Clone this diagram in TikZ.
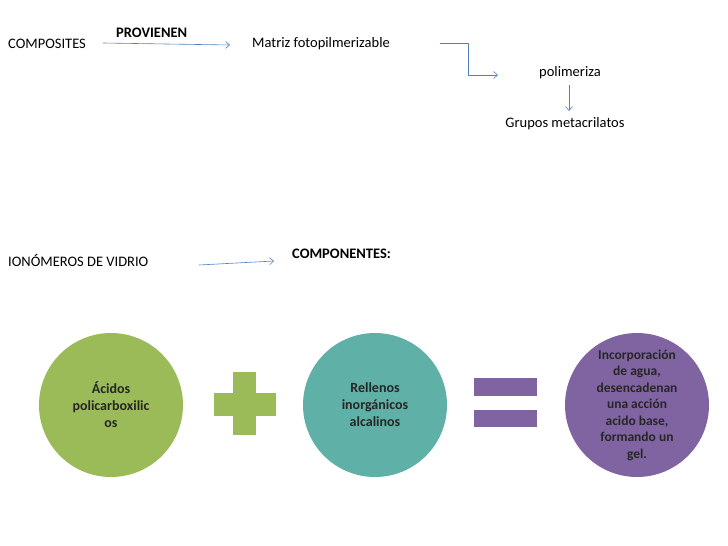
\documentclass[tikz,border=0pt]{standalone}
\usepackage{fontspec}
\setmainfont{Carlito}
\usetikzlibrary{arrows.meta}
\definecolor{ln}{HTML}{4F81BD}
\definecolor{gr}{HTML}{9BBB59}
\definecolor{tl}{HTML}{5FB0A6}
\definecolor{pu}{HTML}{8064A2}
\begin{document}
\begin{tikzpicture}[x=1pt,y=-1pt,
  txt/.style={inner sep=0pt,font=\fontsize{14.5}{17}\selectfont},
  btxt/.style={txt,font=\fontsize{14.5}{17}\selectfont\bfseries},
  arr/.style={draw=ln,line width=0.6pt,-{Straight Barb[length=4pt,width=7pt]}},
  circ/.style={circle,minimum size=144pt,inner sep=0pt,align=center,font=\fontsize{14}{17}\selectfont\bfseries,text=black!85}]
\useasboundingbox (0,0) rectangle (728,546);
\node[txt,anchor=west] (comp) at (8,44) {COMPOSITES};
\node[btxt,anchor=west] (prov) at (116,33) {PROVIENEN};
\node[txt,anchor=west] (mat) at (252,44) {Matriz fotopilmerizable};
\node[txt] (pol) at (570,73) {polimeriza};
\node[txt] (gru) at (565,124) {Grupos metacrilatos};
\coordinate (a1) at (103,43); \coordinate (a2) at (230,45);
\draw[arr] (a1) -- (a2);
\coordinate (b1) at (440,43); \coordinate (b2) at (498,75);
\draw[arr] (b1) -- (468,43) -- (468,75) -- (b2);
\draw[arr] (569,85) -- (569,111);
\node[txt,anchor=west] (ion) at (8,260) {IONÓMEROS DE VIDRIO};
\node[btxt,anchor=west] (cmp) at (292,254) {COMPONENTES:};
\draw[arr] (199,265) -- (274,261);
\node[circ,fill=gr] (c1) at (111,405) {Ácidos\\policarboxilic\\os};
\node[circ,fill=tl] (c2) at (375,405) {Rellenos\\inorgánicos\\alcalinos};
\node[circ,fill=pu,font=\fontsize{13.5}{16.5}\selectfont\bfseries] (c3) at (637,405) {Incorporación\\de agua,\\desencadenan\\una acción\\acido base,\\formando un\\gel.};
\fill[gr] (214,393) rectangle (276,416);
\fill[gr] (233,372) rectangle (256,435);
\fill[pu] (474,378) rectangle (537,396);
\fill[pu] (474,410) rectangle (537,427);
\end{tikzpicture}
\end{document}
